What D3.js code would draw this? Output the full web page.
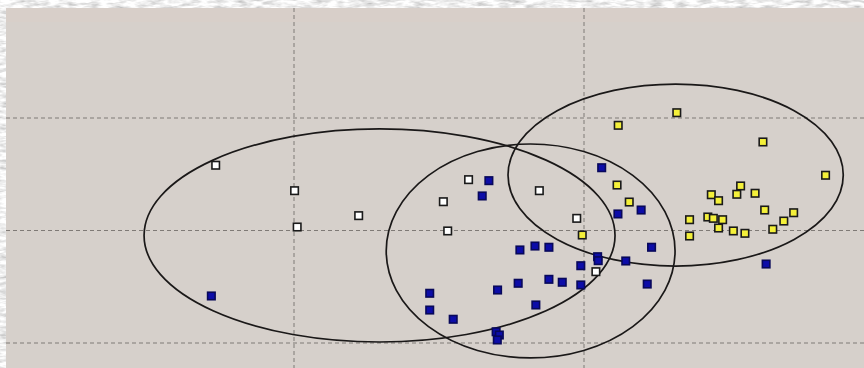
<!DOCTYPE html>
<html>
<head>
<meta charset="utf-8">
<script src="https://cdn.jsdelivr.net/npm/d3@7"></script>
<style>
  html, body { margin: 0; padding: 0; background: #ececec; }
  svg { display: block; }
</style>
</head>
<body>
<svg id="chart" width="864" height="368"></svg>
<script>
// Grid positions (data units)
const xGrid = [-1, 0, 1, 2];
const yGrid = [-1, 0, 1];

// Group 1 (white markers)
const whiteX = [-0.270, 0.002, 0.011, 0.223, 0.602, 0.515, 0.530, 0.846, 0.975, 1.041];
const whiteY = [0.580, 0.354, 0.031, 0.132, 0.452, 0.256, -0.004, 0.354, 0.108, -0.366];

// Group 2 (blue markers)
const blueX = [-0.285, 0.672, 0.649, 1.061, 1.117, 1.197, 0.779, 0.831, 0.879, 1.233,
               1.047, 1.049, 1.144, 0.989, 0.879, 0.925, 0.989, 0.773, 1.218, 0.702,
               0.468, 0.468, 0.834, 0.549, 0.697, 0.708, 0.701, 1.628];
const blueY = [-0.582, 0.443, 0.307, 0.558, 0.147, 0.182, -0.173, -0.138, -0.149, -0.149,
               -0.233, -0.268, -0.271, -0.313, -0.434, -0.460, -0.484, -0.469, -0.476, -0.529,
               -0.558, -0.707, -0.662, -0.789, -0.900, -0.929, -0.973, -0.298];

// Group 3 (yellow markers)
const yellowX = [1.118, 1.320, 1.617, 1.833, 1.114, 1.156, 0.994, 1.540, 1.527, 1.439,
                 1.464, 1.590, 1.623, 1.723, 1.689, 1.651, 1.364, 1.364, 1.427, 1.446,
                 1.478, 1.464, 1.515, 1.555];
const yellowY = [0.935, 1.047, 0.787, 0.491, 0.404, 0.253, -0.040, 0.396, 0.322, 0.318,
                 0.265, 0.331, 0.182, 0.158, 0.084, 0.011, 0.096, -0.049, 0.120, 0.108,
                 0.096, 0.022, -0.004, -0.025];

// Confidence ellipses: centre and semi-axes per group (white, blue, yellow)
const ellipseCX = [0.295, 0.816, 1.316];
const ellipseCY = [-0.044, -0.182, 0.493];
const ellipseRX = [0.812, 0.498, 0.578];
const ellipseRY = [0.947, 0.951, 0.809];

const W = 864, H = 368;
const svg = d3.select("#chart");

const x = d3.scaleLinear().domain([0, 1]).range([294, 584]);
const y = d3.scaleLinear().domain([0, 1]).range([230.5, 118]);

// Marbled frame
const defs = svg.append("defs");
const marble = defs.append("filter").attr("id", "marble")
  .attr("x", 0).attr("y", 0).attr("width", "100%").attr("height", "100%");
marble.append("feTurbulence").attr("type", "fractalNoise")
  .attr("baseFrequency", "0.08 0.3").attr("numOctaves", 3).attr("seed", 4);
marble.append("feColorMatrix").attr("type", "matrix")
  .attr("values", "0 0 0 -0.9 1.32  0 0 0 -0.9 1.32  0 0 0 -0.9 1.32  0 0 0 0 1");
svg.append("rect").attr("width", W).attr("height", H).attr("filter", "url(#marble)");

// Plot panel
const px0 = 6, py0 = 8;
svg.append("rect").attr("x", px0).attr("y", py0)
  .attr("width", W - px0).attr("height", H - py0)
  .attr("fill", "rgb(214,208,203)");
svg.append("rect").attr("x", px0).attr("y", py0)
  .attr("width", W - px0).attr("height", 14)
  .attr("fill", "rgb(217,206,200)").attr("opacity", 0.7);

const clip = defs.append("clipPath").attr("id", "panel");
clip.append("rect").attr("x", px0).attr("y", py0).attr("width", W - px0).attr("height", H - py0);

const g = svg.append("g").attr("clip-path", "url(#panel)");

// Dashed grid
g.append("g").selectAll("line").data(xGrid).join("line")
  .attr("x1", d => x(d)).attr("x2", d => x(d))
  .attr("y1", py0).attr("y2", H)
  .attr("stroke", "#7f7a76").attr("stroke-width", 1)
  .attr("stroke-dasharray", "4,3");
g.append("g").selectAll("line").data(yGrid).join("line")
  .attr("y1", d => y(d)).attr("y2", d => y(d))
  .attr("x1", px0).attr("x2", W)
  .attr("stroke", "#7f7a76").attr("stroke-width", 1)
  .attr("stroke-dasharray", "4,3");

// Ellipses
const ellipses = ellipseCX.map((cx, i) => ({
  cx, cy: ellipseCY[i], rx: ellipseRX[i], ry: ellipseRY[i]
}));
g.append("g").selectAll("ellipse").data(ellipses).join("ellipse")
  .attr("cx", d => x(d.cx)).attr("cy", d => y(d.cy))
  .attr("rx", d => x(d.cx + d.rx) - x(d.cx))
  .attr("ry", d => y(d.cy - d.ry) - y(d.cy))
  .attr("fill", "none").attr("stroke", "#1a1818").attr("stroke-width", 1.7);

// Markers
const S = 7.5;
function drawGroup(xs, ys, fill, stroke) {
  const pts = xs.map((v, i) => ({ x: v, y: ys[i] }));
  g.append("g").selectAll("rect").data(pts).join("rect")
    .attr("x", d => x(d.x) - S / 2).attr("y", d => y(d.y) - S / 2)
    .attr("width", S).attr("height", S)
    .attr("fill", fill).attr("stroke", stroke).attr("stroke-width", 1.6);
}
drawGroup(whiteX, whiteY, "#ffffff", "#1a1a1a");
drawGroup(blueX, blueY, "#0c0ca8", "#08085a");
drawGroup(yellowX, yellowY, "#f4f03a", "#1a1a1a");
</script>
</body>
</html>
